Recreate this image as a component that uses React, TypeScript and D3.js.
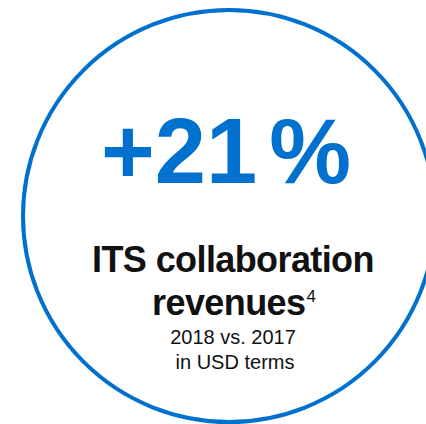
import React, { useEffect, useRef } from 'react';
import * as d3 from 'd3';

// values
const headline = ['+21', '%'];
const titleLines = ['ITS collaboration', 'revenues'];
const footnote = ['4'];
const subLines = ['2018 vs. 2017', 'in USD terms'];

const BLUE = '#0071ce';
const FONT = '"Liberation Sans", Arial, Helvetica, sans-serif';

function App() {
  const ref = useRef<SVGSVGElement | null>(null);

  useEffect(() => {
    const svg = d3.select(ref.current);
    svg.selectAll('*').remove();

    const width = 426;
    const height = 424;

    svg.append('rect').attr('width', width).attr('height', height).attr('fill', '#fff');

    // ring
    svg.append('circle')
      .attr('cx', 229)
      .attr('cy', 216)
      .attr('r', 206)
      .attr('fill', 'none')
      .attr('stroke', BLUE)
      .attr('stroke-width', 4);

    // big percentage
    const big = svg.append('text')
      .attr('x', 226)
      .attr('y', 183)
      .attr('text-anchor', 'middle')
      .attr('font-family', FONT)
      .attr('font-weight', 'bold')
      .attr('font-size', 92)
      .attr('fill', BLUE);
    big.append('tspan').text(headline[0]);
    big.append('tspan').attr('dx', 12).text(headline[1]);

    // title
    svg.append('text')
      .attr('x', 233)
      .attr('y', 272)
      .attr('text-anchor', 'middle')
      .attr('font-family', FONT)
      .attr('font-weight', 'bold')
      .attr('font-size', 36)
      .attr('letter-spacing', -0.6)
      .attr('fill', '#111')
      .text(titleLines[0]);

    const t2 = svg.append('text')
      .attr('x', 234)
      .attr('y', 315)
      .attr('text-anchor', 'middle')
      .attr('font-family', FONT)
      .attr('fill', '#111');
    t2.append('tspan')
      .attr('font-weight', 'bold')
      .attr('font-size', 36)
      .attr('letter-spacing', -0.6)
      .text(titleLines[1]);
    t2.append('tspan')
      .attr('font-size', 17)
      .attr('dy', -13)
      .attr('dx', 1)
      .text(footnote[0]);

    // sub lines
    svg.selectAll('text.sub')
      .data(subLines)
      .enter()
      .append('text')
      .attr('class', 'sub')
      .attr('x', (d, i) => (i === 0 ? 233 : 235))
      .attr('y', (d, i) => 344 + i * 25)
      .attr('text-anchor', 'middle')
      .attr('font-family', FONT)
      .attr('font-size', 20)
      .attr('fill', '#111')
      .text(d => d);
  }, []);

  return (
    <svg
      ref={ref}
      width={426}
      height={424}
      style={{ position: 'absolute', left: 0, top: 0, display: 'block' }}
    />
  );
}

export default App;
